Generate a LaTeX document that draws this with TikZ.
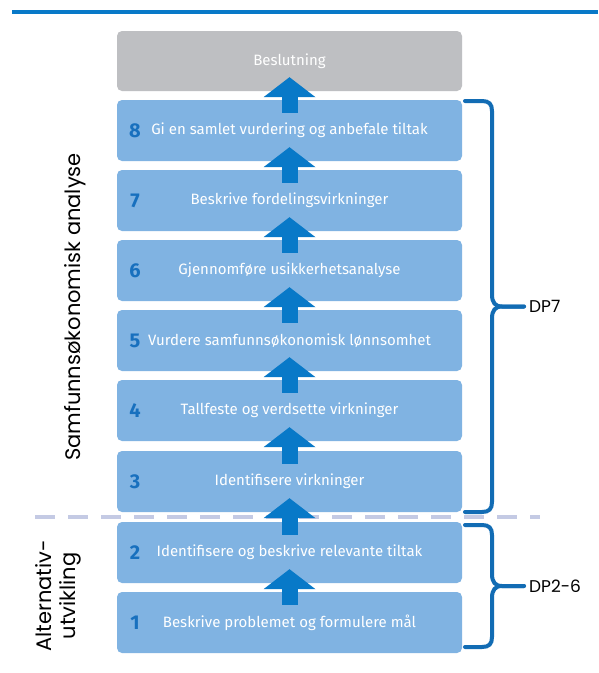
\documentclass[tikz,border=0pt]{standalone}
\usepackage{fontspec}
\setmainfont{Fira Sans}
\newfontfamily\gothic{Poppins}
\usetikzlibrary{positioning,arrows.meta}

\definecolor{stepblue}{RGB}{128,179,226}
\definecolor{stepgray}{RGB}{190,191,194}
\definecolor{flowblue}{RGB}{8,121,200}
\definecolor{numblue}{RGB}{24,112,190}
\definecolor{braceblue}{RGB}{18,108,180}
\definecolor{seplilac}{RGB}{196,202,228}

\tikzstyle{stepbox}=[rectangle, rounded corners=5pt, fill=stepblue, minimum width=345pt, minimum height=61pt, inner sep=0pt, text=white, font=\fontsize{15}{17}\selectfont]
\tikzstyle{stepnum}=[inner sep=0pt, text=numblue, font=\fontsize{20}{22}\selectfont\bfseries]
\tikzstyle{flow}=[draw=flowblue, line width=16pt, -{Triangle[width=52pt,length=20pt,line width=0pt]}]
\tikzstyle{dpbrace}=[draw=braceblue, line width=4pt, line cap=round]
\tikzstyle{dplabel}=[inner sep=0pt, font=\gothic\fontsize{17}{20}\selectfont]
\tikzstyle{grouplabel}=[inner sep=0pt, rotate=90, align=center, font=\gothic\fontsize{21}{24}\selectfont]

\begin{document}
\begin{tikzpicture}[x=1pt, y=-1pt]
	\fill[white] (0,0) rectangle (598,673);
	\useasboundingbox (0,0) rectangle (598,673);
	\draw[draw=flowblue, line width=4pt] (12,11.5) -- (598,11.5);

	% steps
	\node[stepbox, fill=stepgray, minimum height=60pt] (beslutning) at (289.5,61) {Beslutning};
	\foreach \n/\y/\txt in {8/100/{Gi en samlet vurdering og anbefale tiltak}, 7/170/{Beskrive fordelingsvirkninger}, 6/240/{Gjennomføre usikkerhetsanalyse}, 5/310/{Vurdere samfunnsøkonomisk lønnsomhet}, 4/380/{Tallfeste og verdsette virkninger}, 3/451/{Identifisere virkninger}, 2/522/{Identifisere og beskrive relevante tiltak}, 1/592/{Beskrive problemet og formulere mål}}
	{
		\node[stepbox] (b\n) at (289.5,\y+30.5) {\txt};
		\node[stepnum] (n\n) at (135,\y+30.5) {\n};
	}

	% skillelinje
	\coordinate (sepL) at (35,517);
	\coordinate (sepR) at (540,517);
	\draw[seplilac, line width=4.5pt, dash pattern=on 20pt off 13pt] (sepL) -- (sepR);

	\foreach \lo/\hi in {b1/b2, b2/b3, b3/b4, b4/b5, b5/b6, b6/b7, b7/b8, b8/beslutning}
		\draw[flow] ([yshift=-13pt]\lo.north) -- ([yshift=14pt]\hi.south);

	% klammer
	\foreach \t/\b/\lab/\nm in {101/512/DP7/dp7, 525/647/DP2-6/dp26}
	{
		\pgfmathsetmacro{\m}{(\t+\b)/2}
		\coordinate (\nm tip) at (524,\m);
		\draw[dpbrace] (465,\t) -- (482,\t) .. controls (489,\t) and (492,\t+3) .. (492,\t+10) -- (492,\m-12) .. controls (492,\m-4) and (495,\m) .. (502,\m) -- (\nm tip);
		\draw[dpbrace] (465,\b) -- (482,\b) .. controls (489,\b) and (492,\b-3) .. (492,\b-10) -- (492,\m+12) .. controls (492,\m+4) and (495,\m) .. (502,\m) -- (\nm tip);
		\node[dplabel, right=5pt of \nm tip] (\nm) {\lab};
	}

	\node[grouplabel] (samf) at (75,307) {Samfunnsøkonomisk analyse};
	\node[grouplabel] (alt) at (58.5,596) {Alternativ-\\utvikling};
\end{tikzpicture}
\end{document}
